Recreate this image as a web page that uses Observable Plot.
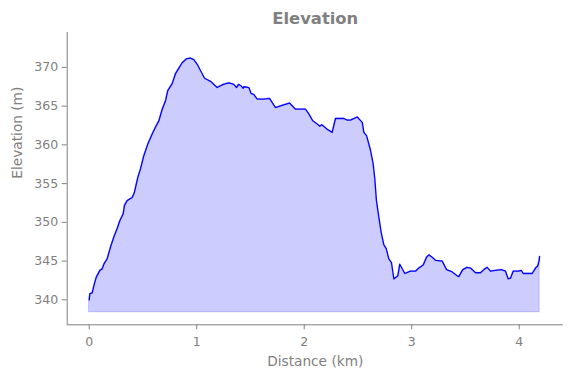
<!DOCTYPE html>
<html>
<head>
<meta charset="utf-8">
<script src="https://cdn.jsdelivr.net/npm/d3@7"></script>
<script src="https://cdn.jsdelivr.net/npm/@observablehq/plot@0.6"></script>
<style>
  html, body { margin: 0; padding: 0; background: white; }
</style>
</head>
<body>
<div id="chart"></div>
<script>
const distance = [0.000,0.006,0.028,0.043,0.065,0.099,0.121,0.136,0.167,0.198,0.229,0.260,0.285,0.316,0.328,0.353,0.400,0.421,0.452,0.477,0.508,0.545,0.586,0.617,0.648,0.679,0.710,0.731,0.772,0.803,0.834,0.865,0.905,0.942,0.973,1.005,1.035,1.073,1.128,1.190,1.247,1.300,1.345,1.370,1.389,1.414,1.432,1.438,1.485,1.507,1.531,1.563,1.624,1.677,1.733,1.795,1.863,1.919,2.012,2.043,2.080,2.121,2.145,2.164,2.189,2.214,2.238,2.260,2.291,2.369,2.400,2.431,2.493,2.540,2.555,2.580,2.617,2.642,2.657,2.672,2.694,2.716,2.741,2.763,2.787,2.812,2.834,2.871,2.889,2.936,2.989,3.035,3.066,3.107,3.138,3.159,3.191,3.221,3.284,3.324,3.377,3.423,3.438,3.475,3.516,3.547,3.594,3.640,3.671,3.702,3.733,3.780,3.833,3.873,3.898,3.919,3.944,3.996,4.019,4.037,4.121,4.152,4.173,4.186,4.190];
const elevation = [340.0,340.8,340.9,341.8,342.9,343.8,344.0,344.6,345.3,346.8,348.1,349.2,350.2,351.1,352.2,352.8,353.2,353.9,355.8,356.9,358.6,360.1,361.4,362.3,363.1,364.6,365.7,367.0,367.9,369.2,369.9,370.6,371.1,371.2,371.0,370.4,369.6,368.6,368.2,367.4,367.8,368.0,367.8,367.4,367.8,367.6,367.3,367.5,367.4,366.6,366.5,365.9,365.9,366.0,364.8,365.1,365.4,364.6,364.6,364.0,363.1,362.7,362.4,362.6,362.3,362.0,361.8,361.6,363.4,363.4,363.2,363.2,363.6,362.9,361.6,361.2,359.3,357.5,355.6,352.8,350.7,348.7,347.1,346.6,345.3,344.8,342.7,343.1,344.6,343.4,343.7,343.7,344.1,344.5,345.5,345.8,345.5,345.1,345.0,343.9,343.6,343.1,343.0,343.9,344.2,344.1,343.5,343.5,343.9,344.2,343.7,343.8,343.9,343.7,342.7,342.8,343.7,343.7,343.8,343.4,343.4,344.1,344.4,345.1,345.6];
const baseline = 338.4;
const xTicks = [0, 1, 2, 3, 4];
const yTicks = [340, 345, 350, 355, 360, 365, 370];
const xDomain = [-0.205, 4.41];
const yDomain = [336.78, 374.5];
const titleText = "Elevation";
const xLabel = "Distance (km)";
const yLabel = "Elevation (m)";

const data = distance.map((d, i) => ({d, e: elevation[i]}));
const gray = "#808080";

const chart = Plot.plot({
  width: 571,
  height: 378,
  marginLeft: 66.7,
  marginRight: 8.2,
  marginTop: 32,
  marginBottom: 53.7,
  x: {domain: xDomain},
  y: {domain: yDomain},
  style: {fontFamily: "DejaVu Sans", color: gray, background: "white", overflow: "visible"},
  marks: [
    Plot.areaY(data, {x: "d", y1: baseline, y2: "e", fill: "blue", fillOpacity: 0.2, stroke: "blue", strokeOpacity: 0.2, strokeWidth: 1}),
    Plot.lineY(data, {x: "d", y: "e", stroke: "blue", strokeWidth: 1.3}),
    Plot.ruleX([xDomain[0]], {stroke: gray, strokeWidth: 1}),
    Plot.ruleY([yDomain[0]], {stroke: gray, strokeWidth: 1}),
    Plot.axisX({ticks: xTicks, tickFormat: d => String(d), tickSize: 5, tickPadding: 7, fontSize: 12.5, label: null, stroke: gray, fill: gray}),
    Plot.axisY({ticks: yTicks, tickFormat: d => String(d), tickSize: 5, tickPadding: 4, fontSize: 12.5, label: null, stroke: gray, fill: gray}),
    Plot.text([xLabel], {frameAnchor: "bottom", dy: 41, fontSize: 13.7, fill: gray}),
    Plot.text([yLabel], {frameAnchor: "left", dx: -49.7, rotate: -90, fontSize: 13.7, fill: gray}),
    Plot.text([titleText], {frameAnchor: "top", dy: -20, fontSize: 16.4, fontWeight: "bold", fill: gray})
  ]
});
document.getElementById("chart").appendChild(chart);
</script>
</body>
</html>
